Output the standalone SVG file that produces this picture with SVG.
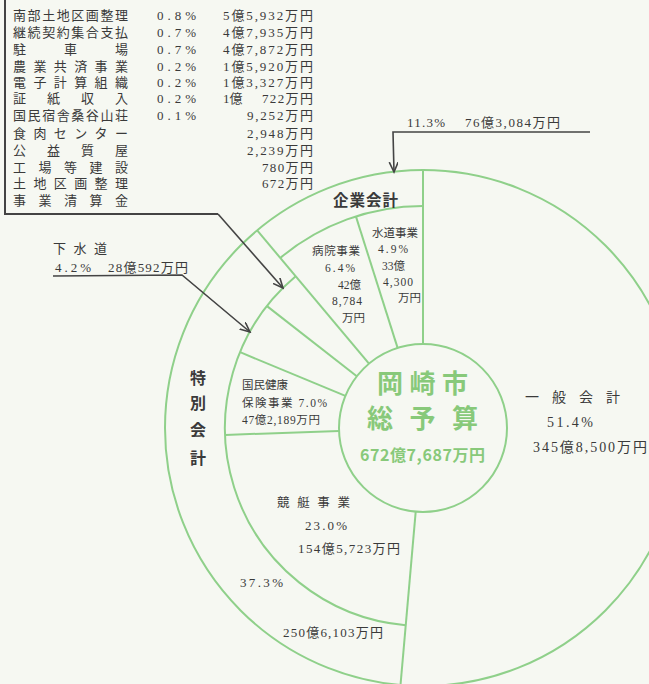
<svg xmlns="http://www.w3.org/2000/svg" width="649" height="684" viewBox="0 0 649 684">
<style>
.bg{fill:#f6f8f2}
.ring{fill:none;stroke:#8fd08a;stroke-width:2}
.t{font-family:"Liberation Serif","Noto Sans CJK JP",serif;fill:#3a3a3a}
.b{font-family:"Noto Sans CJK JP",sans-serif;font-weight:bold;fill:#3a3a3a}
.g{font-family:"Noto Sans CJK JP",sans-serif;font-weight:bold;fill:#88c97a}
.tbl{font-size:13px}
.sm{font-size:11.5px}
.md{font-size:13px}
.conn{fill:none;stroke:#444;stroke-width:1.6}
.border{fill:none;stroke:#444;stroke-width:2}
</style>
<defs>
<marker id="ah" markerWidth="12" markerHeight="10" refX="10" refY="4.5" orient="auto" markerUnits="userSpaceOnUse">
<path d="M0,0 L10,4.5 L0,9" fill="none" stroke="#444" stroke-width="1.6"/>
</marker>
</defs>
<rect class="bg" x="0" y="0" width="649" height="684"/>

<g id="chart">
<circle class="ring" cx="423" cy="428" r="258"/>
<path class="ring" d="M423,206 A222,222 0 0 0 280.3,257.9"/>
<path class="ring" d="M295.7,276.3 A198,198 0 0 0 405.7,625.2"/>
<line class="ring" x1="423" y1="170" x2="423" y2="344"/>
<line class="ring" x1="355.9" y1="216.4" x2="397.6" y2="347.9"/>
<line class="ring" x1="257.2" y1="230.4" x2="369" y2="363.7"/>
<line class="ring" x1="267" y1="306.1" x2="356.8" y2="376.3"/>
<line class="ring" x1="240.1" y1="352.2" x2="345.4" y2="395.9"/>
<line class="ring" x1="225.1" y1="434.9" x2="339.1" y2="430.9"/>
<line class="ring" x1="400.5" y1="685" x2="415.7" y2="511.7"/>
<circle class="ring" cx="423" cy="428" r="84" fill="#f6f8f2"/>
</g>

<g id="table">
<line class="border" x1="5" y1="0" x2="5" y2="214"/>
<line class="border" x1="4" y1="214" x2="218" y2="214"/>
<g class="t tbl">
<text x="13" y="20" textLength="115" lengthAdjust="spacing">南部土地区画整理</text>
<text x="13" y="37" textLength="115" lengthAdjust="spacing">継続契約集合支払</text>
<text x="13" y="54" textLength="115" lengthAdjust="spacing">駐車場</text>
<text x="13" y="71" textLength="115" lengthAdjust="spacing">農業共済事業</text>
<text x="13" y="87" textLength="115" lengthAdjust="spacing">電子計算組織</text>
<text x="13" y="103" textLength="115" lengthAdjust="spacing">証紙収入</text>
<text x="13" y="120" textLength="115" lengthAdjust="spacing">国民宿舎桑谷山荘</text>
<text x="13" y="138" textLength="115" lengthAdjust="spacing">食肉センター</text>
<text x="13" y="155" textLength="115" lengthAdjust="spacing">公益質屋</text>
<text x="13" y="172" textLength="115" lengthAdjust="spacing">工場等建設</text>
<text x="13" y="188" textLength="115" lengthAdjust="spacing">土地区画整理</text>
<text x="13" y="205" textLength="115" lengthAdjust="spacing">事業清算金</text>
<text x="157" y="20" textLength="39" lengthAdjust="spacing">0.8%</text>
<text x="157" y="37" textLength="39" lengthAdjust="spacing">0.7%</text>
<text x="157" y="54" textLength="39" lengthAdjust="spacing">0.7%</text>
<text x="157" y="71" textLength="39" lengthAdjust="spacing">0.2%</text>
<text x="157" y="87" textLength="39" lengthAdjust="spacing">0.2%</text>
<text x="157" y="103" textLength="39" lengthAdjust="spacing">0.2%</text>
<text x="157" y="120" textLength="39" lengthAdjust="spacing">0.1%</text>
<text x="223" y="20" textLength="90" lengthAdjust="spacing">5億5,932万円</text>
<text x="223" y="37" textLength="90" lengthAdjust="spacing">4億7,935万円</text>
<text x="223" y="54" textLength="90" lengthAdjust="spacing">4億7,872万円</text>
<text x="223" y="71" textLength="90" lengthAdjust="spacing">1億5,920万円</text>
<text x="223" y="87" textLength="90" lengthAdjust="spacing">1億3,327万円</text>
<text x="223" y="103">1億</text>
<text x="262" y="103" textLength="51" lengthAdjust="spacing">722万円</text>
<text x="247" y="120" textLength="66" lengthAdjust="spacing">9,252万円</text>
<text x="247" y="138" textLength="66" lengthAdjust="spacing">2,948万円</text>
<text x="247" y="155" textLength="66" lengthAdjust="spacing">2,239万円</text>
<text x="262" y="172" textLength="51" lengthAdjust="spacing">780万円</text>
<text x="262" y="188" textLength="51" lengthAdjust="spacing">672万円</text>
</g>
</g>

<g id="kigyo-label">
<text class="t md" x="407" y="127" textLength="38" lengthAdjust="spacing">11.3%</text>
<text class="t md" x="465" y="127" textLength="95" lengthAdjust="spacing">76億3,084万円</text>
<text class="b" x="333" y="206" font-size="15.5" textLength="65" lengthAdjust="spacing">企業会計</text>
</g>

<g id="suido">
<text class="t sm" x="372" y="237" textLength="46" lengthAdjust="spacing">水道事業</text>
<text class="t sm" x="378" y="253" textLength="30" lengthAdjust="spacing">4.9%</text>
<text class="t sm" x="382" y="270">33億</text>
<text class="t sm" x="383" y="286" textLength="30" lengthAdjust="spacing">4,300</text>
<text class="t sm" x="398" y="302">万円</text>
</g>

<g id="byoin">
<text class="t sm" x="312" y="255" textLength="48" lengthAdjust="spacing">病院事業</text>
<text class="t sm" x="325" y="272" textLength="30" lengthAdjust="spacing">6.4%</text>
<text class="t sm" x="338" y="289">42億</text>
<text class="t sm" x="332" y="305" textLength="30" lengthAdjust="spacing">8,784</text>
<text class="t sm" x="342" y="322">万円</text>
</g>

<g id="gesuido-label">
<text class="t md" x="53" y="253" textLength="54" lengthAdjust="spacing">下水道</text>
<text class="t md" x="55" y="272" textLength="36" lengthAdjust="spacing">4.2%</text>
<text class="t md" x="108" y="272" textLength="80" lengthAdjust="spacing">28億592万円</text>
</g>

<g id="tokubetsu-label" class="b" font-size="16" text-anchor="middle">
<text x="198" y="384">特</text>
<text x="198" y="409">別</text>
<text x="198" y="436">会</text>
<text x="198" y="464">計</text>
</g>

<g id="kokuho">
<text class="t sm" x="242" y="389" textLength="46" lengthAdjust="spacing">国民健康</text>
<text class="t sm" x="242" y="407" textLength="85" lengthAdjust="spacing">保険事業 7.0%</text>
<text class="t sm" x="242" y="424" textLength="78" lengthAdjust="spacing">47億2,189万円</text>
</g>

<g id="kyotei">
<text class="t" font-size="12.5" x="277" y="507" textLength="73" lengthAdjust="spacing">競艇事業</text>
<text class="t" font-size="13" x="305" y="530" textLength="42" lengthAdjust="spacing">23.0%</text>
<text class="t" font-size="13" x="298" y="553" textLength="102" lengthAdjust="spacing">154億5,723万円</text>
</g>

<g id="tokubetsu-total">
<text class="t" font-size="13" x="240" y="587" textLength="43" lengthAdjust="spacing">37.3%</text>
<text class="t" font-size="13" x="283" y="637" textLength="100" lengthAdjust="spacing">250億6,103万円</text>
</g>

<g id="center">
<text class="g" x="377" y="393" font-size="26" textLength="91" lengthAdjust="spacing">岡崎市</text>
<text class="g" x="367" y="428" font-size="26" textLength="111" lengthAdjust="spacing">総予算</text>
<text class="g" x="360" y="461" font-size="16" textLength="125" lengthAdjust="spacing">672億7,687万円</text>
</g>

<g id="ippan">
<text class="t" font-size="14" x="525" y="402" textLength="95" lengthAdjust="spacing">一般会計</text>
<text class="t" font-size="14" x="547" y="427" textLength="46" lengthAdjust="spacing">51.4%</text>
<text class="t" font-size="14" x="533" y="452" textLength="114" lengthAdjust="spacing">345億8,500万円</text>
</g>

<g id="connectors">
<polyline class="conn" points="590,132 393,132 394,172" marker-end="url(#ah)"/>
<polyline class="conn" points="218,214 283,288" marker-end="url(#ah)"/>
<polyline class="conn" points="53,276 182,275 250,332" marker-end="url(#ah)"/>
</g>
</svg>
